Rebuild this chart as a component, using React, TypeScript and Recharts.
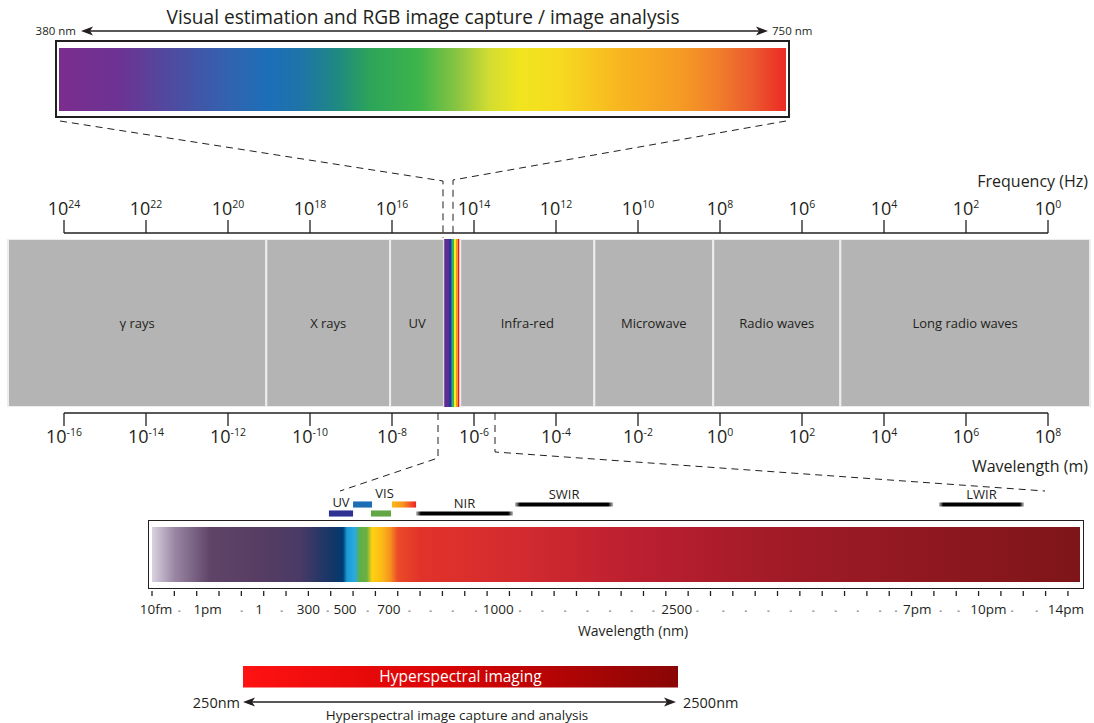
import React from "react";
import { ComposedChart, Bar, Line, XAxis, YAxis, ReferenceArea, LabelList } from "recharts";

const FONT = '"Open Sans", "DejaVu Sans", sans-serif';
const INK = "#231f20";

// visible light strip (nm)
const visibleRange = [380, 750];
const visibleStopNm = [380, 411, 437, 467, 487, 503, 523, 538, 564, 584, 599, 615, 635, 666, 697, 715, 733, 750];
const visibleStopColor = ["#7b2d8e", "#6c3393", "#4f4ba0", "#3163b0", "#1c6fb8", "#1e74a8", "#1f8b7e", "#2ca45a", "#3fb54a", "#8fc640", "#d2dd31", "#f1e51e", "#f6da20", "#f8b520", "#f59a25", "#f17f2b", "#eb5a2e", "#ec2a25"];

// EM spectrum bands, log10 of wavelength in metres
const bandNames = ["γ rays", "X rays", "UV", "", "Infra-red", "Microwave", "Radio waves", "Long radio waves"];
const bandEdges = [-17.37, -11.07, -8.05, -6.73, -6.34, -3.07, -0.17, 2.93, 9.02];
const visibleBand = 3;
const rainbowColors = ["#5c2d91", "#2e3192", "#1c75bc", "#39b54a", "#f9ed32", "#f7941d", "#ed1c24"];
const rainbowEdges = [0, 0.3, 0.4, 0.5, 0.63, 0.76, 0.86, 1];
const freqExponents = [24, 22, 20, 18, 16, 14, 12, 10, 8, 6, 4, 2, 0];
const wavelengthExponents = [-16, -14, -12, -10, -8, -6, -4, -2, 0, 2, 4, 6, 8];

// lower strip, positions in tick steps
const spectrumEnd = 41.54;
const nmTicks = [0, 1, 2, 3, 4, 5, 6, 7, 8, 9, 10, 11, 12, 13, 14, 15, 16, 17, 18, 19, 20, 21, 22, 23, 24, 25, 26, 27, 28, 29, 30, 31, 32, 33, 34, 35, 36, 37, 38, 39, 40, 41];
const nmLabelText = ["10fm", "1pm", "1", "300", "500", "700", "1000", "2500", "7pm", "10pm", "14pm"];
const nmLabelPos = [0.18, 2.49, 4.8, 7.0, 8.64, 10.6, 15.5, 23.49, 34.26, 37.44, 40.91];
const nmDotPos = [1.22, 4.01, 5.8, 7.86, 9.65, 11.52, 12.47, 13.46, 14.5, 16.47, 17.47, 18.49, 19.49, 20.5, 21.47, 22.44, 24.41, 25.57, 26.58, 27.59, 28.59, 29.6, 30.6, 31.59, 32.59, 33.3, 35.3, 36.1, 38.5, 39.6];
const spectrumStopPos = [0, 1.0, 2.6, 4.8, 6.6, 7.5, 8.2, 8.55, 8.73, 9.09, 9.3, 9.62, 9.85, 10.3, 10.65, 11.0, 12.0, 16.5, 21.8, 29, 41.54];
const spectrumStopColor = ["#d9d2df", "#9b87a5", "#5f4468", "#573d63", "#4a3a66", "#283766", "#0f3767", "#003c74", "#1b9ad6", "#29abe2", "#5daf47", "#6cb043", "#ffd20f", "#fbb917", "#f7941d", "#ea4b28", "#e2332a", "#d22a2f", "#bb1f30", "#9e1a26", "#7e1519"];

// sensor ranges above the lower strip
const markerNames = ["UV", "", "", "", "VIS", "NIR", "SWIR", "LWIR"];
const markerRows = ["lower", "upper", "lower", "upper", "upper", "lower", "upper", "upper"];
const markerKinds = ["band", "band", "band", "band", "label", "line", "line", "line"];
const markerFrom = [7.92, 9.0, 9.8, 10.74, 9.0, 11.82, 16.25, 35.23];
const markerTo = [9.0, 9.85, 10.7, 11.82, 11.82, 16.16, 20.64, 39.03];
const markerFills = ["#2e3192", "#1c6db5", "#62a744", "url(#warmBar)", "none", "url(#fadeLine)", "url(#fadeLine)", "url(#fadeLine)"];

// hyperspectral range (nm)
const hsiRange = [250, 2500];
const hsiName = "Hyperspectral imaging";

const visibleData = [{ row: "visible", range: visibleRange }];
const spectrumData = [{ row: "spectrum", range: [0, spectrumEnd], mid: spectrumEnd / 2 }];
const hsiData = [{ row: "hsi", name: hsiName, range: hsiRange }];
const freqData = freqExponents.map((e) => ({ e, v: 0.5 }));
const wlData = wavelengthExponents.map((w) => ({ w, v: 0.5 }));
const bandData = bandNames.map((name, i) => ({ name, w: (bandEdges[i] + bandEdges[i + 1]) / 2, v: 0.5 }));
const markerData = markerNames.map((name, i) => ({ name, x: (markerFrom[i] + markerTo[i]) / 2, v: 1 }));

function PowerTick(props: any) {
  const { x, y, payload, below } = props;
  return (
    <text x={x} y={below ? y + 15 : y - 3} textAnchor="middle" fill={INK} fontFamily={FONT} fontSize={18}>
      10
      <tspan dy={-7} fontSize={10.5}>{payload.value}</tspan>
    </text>
  );
}

function TickMark(props: any) {
  const { x, y } = props;
  return <line x1={x} x2={x} y1={y + 6} y2={y + 11} stroke={INK} strokeWidth={1.3} />;
}

function NmLabel(props: any) {
  const { x, y, payload } = props;
  const i = nmLabelPos.indexOf(payload.value);
  if (i < 0) return <rect x={x - 1} y={y + 13.5} width={2.2} height={1.3} fill="#8c8c8c" />;
  return (
    <text x={x} y={y + 16.5} textAnchor="middle" fill={INK} fontFamily={FONT} fontSize={13.5}>
      {nmLabelText[i]}
    </text>
  );
}

function DoubleArrow({ x1, x2, y }: { x1: number; x2: number; y: number }) {
  const head = (tip: number, dir: number) =>
    `M${tip},${y} L${tip + dir * 12},${y - 4.5} L${tip + dir * 9},${y} L${tip + dir * 12},${y + 4.5} Z`;
  return (
    <g>
      <line x1={x1 + 9} x2={x2 - 9} y1={y} y2={y} stroke={INK} strokeWidth={1.4} />
      <path d={head(x1, 1)} fill={INK} />
      <path d={head(x2, -1)} fill={INK} />
    </g>
  );
}

const connectors = [
  [[60, 121], [443, 181], [443, 238]],
  [[786, 121], [453, 180], [453, 238]],
  [[438, 413], [438, 458], [340, 491]],
  [[495, 413], [495, 452], [1045, 491]],
];

const abs = (left: number, top: number): React.CSSProperties => ({ position: "absolute", left, top });

const noDot = () => <g />;
const hiddenLine = (dataKey: string, extra: any = {}) => (
  <Line dataKey={dataKey} stroke="none" dot={noDot} activeDot={false} legendType="none" isAnimationActive={false} {...extra} />
);

export default function App() {
  const markerThickness = (kind: string) => (kind === "line" ? 0.45 : 0.68);
  return (
    <div style={{ position: "absolute", left: 0, top: 0, width: 1094, height: 723, background: "#fff", fontFamily: FONT, overflow: "hidden" }}>
      {/* visible light strip */}
      <div style={{ ...abs(55, 40), width: 735, height: 78, border: `2px solid ${INK}`, boxSizing: "border-box" }}>
        <ComposedChart width={731} height={74} layout="vertical" data={visibleData} margin={{ top: 2, right: 2, bottom: 2, left: 2 }}>
          <defs>
            <linearGradient id="visGrad" x1="0" y1="0" x2="1" y2="0">
              {visibleStopNm.map((nm, i) => (
                <stop key={i} offset={(nm - visibleRange[0]) / (visibleRange[1] - visibleRange[0])} stopColor={visibleStopColor[i]} />
              ))}
            </linearGradient>
          </defs>
          <XAxis type="number" domain={visibleRange} hide />
          <YAxis type="category" dataKey="row" hide />
          <Bar dataKey="range" barSize={70} fill="url(#visGrad)" isAnimationActive={false} />
        </ComposedChart>
      </div>

      {/* frequency axis */}
      <div style={abs(0, 180)}>
        <ComposedChart width={1094} height={56} data={freqData} margin={{ top: 0, right: 46, bottom: 1, left: 64 }}>
          <XAxis
            type="number"
            dataKey="e"
            orientation="top"
            domain={[0, 24]}
            reversed
            ticks={freqExponents}
            interval={0}
            height={53}
            tickSize={13}
            axisLine={{ stroke: INK, strokeWidth: 1.3 }}
            tickLine={{ stroke: INK, strokeWidth: 1.3 }}
            tick={(p: any) => <PowerTick {...p} />}
          />
          <YAxis hide type="number" domain={[0, 1]} />
          {hiddenLine("v")}
        </ComposedChart>
      </div>

      {/* EM bands */}
      <div style={abs(0, 239)}>
        <ComposedChart width={1094} height={168} data={bandData} margin={{ top: 0, right: 4, bottom: 0, left: 8 }}>
          <defs>
            <linearGradient id="rainbow" x1="0" y1="0" x2="1" y2="0">
              {rainbowColors.map((c, i) => [
                <stop key={`a${i}`} offset={rainbowEdges[i]} stopColor={c} />,
                <stop key={`b${i}`} offset={rainbowEdges[i + 1]} stopColor={c} />,
              ])}
            </linearGradient>
          </defs>
          <XAxis type="number" dataKey="w" domain={[bandEdges[0], bandEdges[bandEdges.length - 1]]} hide allowDataOverflow />
          <YAxis type="number" domain={[0, 1]} hide />
          {bandNames.map((name, i) => (
            <ReferenceArea
              key={i}
              x1={bandEdges[i]}
              x2={bandEdges[i + 1]}
              y1={0}
              y2={1}
              fill={i === visibleBand ? "url(#rainbow)" : "#b4b4b4"}
              fillOpacity={1}
              stroke={i === visibleBand ? "none" : "#ededed"}
              strokeWidth={2}
              label={name ? { value: name, position: "center", fill: INK, fontSize: 13, fontFamily: FONT } : undefined}
            />
          ))}
          {hiddenLine("v")}
        </ComposedChart>
      </div>

      {/* wavelength axis */}
      <div style={abs(0, 410)}>
        <ComposedChart width={1094} height={43} data={wlData} margin={{ top: 1, right: 46, bottom: 0, left: 64 }}>
          <XAxis
            type="number"
            dataKey="w"
            domain={[-16, 8]}
            ticks={wavelengthExponents}
            interval={0}
            height={40}
            tickSize={13}
            axisLine={{ stroke: INK, strokeWidth: 1.3 }}
            tickLine={{ stroke: INK, strokeWidth: 1.3 }}
            tick={(p: any) => <PowerTick {...p} below />}
          />
          <YAxis hide type="number" domain={[0, 1]} />
          {hiddenLine("v")}
        </ComposedChart>
      </div>

      {/* sensor markers */}
      <div style={abs(0, 480)}>
        <ComposedChart width={1094} height={40} data={markerData} margin={{ top: 20, right: 14, bottom: 2, left: 152 }}>
          <defs>
            <linearGradient id="warmBar" x1="0" y1="0" x2="1" y2="0">
              <stop offset="0" stopColor="#fbb817" />
              <stop offset="0.45" stopColor="#f7941d" />
              <stop offset="1" stopColor="#ec2227" />
            </linearGradient>
            <linearGradient id="fadeLine" x1="0" y1="0" x2="1" y2="0">
              <stop offset="0" stopColor="#000" stopOpacity={0.25} />
              <stop offset="0.05" stopColor="#000" stopOpacity={1} />
              <stop offset="0.95" stopColor="#000" stopOpacity={1} />
              <stop offset="1" stopColor="#000" stopOpacity={0.25} />
            </linearGradient>
          </defs>
          <XAxis type="number" dataKey="x" domain={[0, spectrumEnd]} hide />
          <YAxis type="number" domain={[0, 2]} hide />
          {markerNames.map((name, i) => {
            const c = markerRows[i] === "upper" ? 1.5 : 0.5;
            const h = markerThickness(markerKinds[i]) / 2;
            return (
              <ReferenceArea
                key={i}
                x1={markerFrom[i]}
                x2={markerTo[i]}
                y1={c - h}
                y2={c + h}
                fill={markerFills[i]}
                fillOpacity={1}
                label={name ? { value: name, position: "top", offset: 3, fill: INK, fontSize: 13, fontFamily: FONT } : undefined}
              />
            );
          })}
          {hiddenLine("v")}
        </ComposedChart>
      </div>

      {/* lower spectrum strip */}
      <div style={{ ...abs(148, 520), width: 936, height: 69, border: `1.5px solid ${INK}`, boxSizing: "border-box" }} />
      <div style={abs(0, 520)}>
        <ComposedChart width={1094} height={101} layout="vertical" data={spectrumData} margin={{ top: 4, right: 14, bottom: 2, left: 152 }}>
          <defs>
            <linearGradient id="nmSpectrum" x1="0" y1="0" x2="1" y2="0">
              {spectrumStopPos.map((p, i) => (
                <stop key={i} offset={p / spectrumEnd} stopColor={spectrumStopColor[i]} />
              ))}
            </linearGradient>
          </defs>
          <XAxis type="number" domain={[0, spectrumEnd]} ticks={nmTicks} interval={0} height={12} tickSize={0} tickMargin={0} axisLine={false} tickLine={false} tick={(p: any) => <TickMark {...p} />} />
          <XAxis xAxisId="lbl" type="number" domain={[0, spectrumEnd]} ticks={[...nmLabelPos, ...nmDotPos]} interval={0} height={22} tickSize={0} tickMargin={0} axisLine={false} tickLine={false} tick={(p: any) => <NmLabel {...p} />} />
          <YAxis type="category" dataKey="row" hide />
          <Bar dataKey="range" barSize={61} fill="url(#nmSpectrum)" isAnimationActive={false} />
          {hiddenLine("mid", { xAxisId: "lbl" })}
        </ComposedChart>
      </div>

      {/* hyperspectral imaging range */}
      <div style={abs(0, 660)}>
        <ComposedChart width={1094} height={29} layout="vertical" data={hsiData} margin={{ top: 5, right: 416, bottom: 0, left: 243 }}>
          <defs>
            <linearGradient id="hsiGrad" x1="0" y1="0" x2="1" y2="0">
              <stop offset="0" stopColor="#ff1212" />
              <stop offset="0.5" stopColor="#d50303" />
              <stop offset="1" stopColor="#8a0606" />
            </linearGradient>
          </defs>
          <XAxis type="number" domain={hsiRange} hide />
          <YAxis type="category" dataKey="row" hide />
          <Bar dataKey="range" barSize={24} fill="url(#hsiGrad)" isAnimationActive={false}>
            <LabelList dataKey="name" position="center" fill="#fff" fontSize={15.5} fontFamily={FONT} />
          </Bar>
        </ComposedChart>
      </div>

      {/* annotations */}
      <svg width={1094} height={723} style={{ position: "absolute", left: 0, top: 0, pointerEvents: "none" }} fontFamily={FONT}>
        <text x={423} y={24} textAnchor="middle" fontSize={20} fill={INK} textLength={513} lengthAdjust="spacingAndGlyphs">
          Visual estimation and RGB image capture / image analysis
        </text>
        <DoubleArrow x1={81} x2={768} y={31} />
        <text x={76} y={35} textAnchor="end" fontSize={11.5} fill={INK}>380 nm</text>
        <text x={772} y={35} textAnchor="start" fontSize={11.5} fill={INK}>750 nm</text>
        <text x={1088} y={187} textAnchor="end" fontSize={16} fill={INK}>Frequency (Hz)</text>
        <text x={1088} y={472} textAnchor="end" fontSize={16} fill={INK}>Wavelength (m)</text>
        <text x={633} y={636} textAnchor="middle" fontSize={14} fill={INK}>Wavelength (nm)</text>
        {connectors.map((pts, i) => (
          <polyline key={i} points={pts.map((p) => p.join(",")).join(" ")} fill="none" stroke={INK} strokeWidth={1} strokeDasharray="7 5" />
        ))}
        <DoubleArrow x1={243} x2={676} y={702} />
        <text x={240} y={707.5} textAnchor="end" fontSize={14.5} fill={INK}>250nm</text>
        <text x={683} y={707.5} textAnchor="start" fontSize={14.5} fill={INK}>2500nm</text>
        <text x={457} y={720} textAnchor="middle" fontSize={13.5} fill={INK}>Hyperspectral image capture and analysis</text>
      </svg>
    </div>
  );
}
